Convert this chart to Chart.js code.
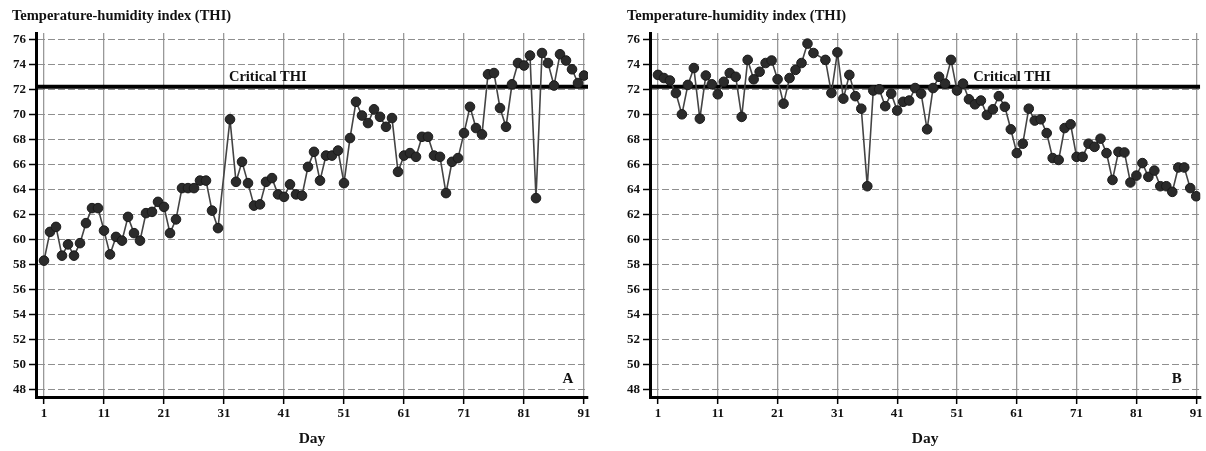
<!DOCTYPE html>
<html>
<head>
<meta charset="utf-8">
<script src="https://cdn.jsdelivr.net/npm/chart.js@4/dist/chart.umd.min.js"></script>
<style>
  html, body { margin: 0; padding: 0; background: #fff; }
  #wrap { position: relative; width: 1206px; height: 451px; overflow: hidden; }
  canvas { position: absolute; top: 0; }
  .ttl { position: absolute; top: 7px; font: bold 14.5px "Liberation Serif", "Times New Roman", serif; color: #111; white-space: nowrap; }
</style>
</head>
<body>
<div id="wrap">
  <canvas id="cA" width="603" height="451" style="left:0"></canvas>
  <canvas id="cB" width="603" height="451" style="left:603px"></canvas>
  <div class="ttl" style="left:12px">Temperature-humidity index (THI)</div>
  <div class="ttl" style="left:627px">Temperature-humidity index (THI)</div>
</div>
<script>
// ---- data ----
const days = [1,2,3,4,5,6,7,8,9,10,11,12,13,14,15,16,17,18,19,20,21,22,23,24,25,26,27,28,29,30,31,32,33,34,35,36,37,38,39,40,41,42,43,44,45,46,47,48,49,50,51,52,53,54,55,56,57,58,59,60,61,62,63,64,65,66,67,68,69,70,71,72,73,74,75,76,77,78,79,80,81,82,83,84,85,86,87,88,89,90,91];
const dayTicks = [1, 11, 21, 31, 41, 51, 61, 71, 81, 91];
const thiTicks = [48, 50, 52, 54, 56, 58, 60, 62, 64, 66, 68, 70, 72, 74, 76];
const criticalTHI = 72.2;

// Panel A
const thiA = [
  58.3, 60.6, 61.0, 58.7, 59.6, 58.7, 59.7, 61.3, 62.5, 62.5,
  60.7, 58.8, 60.2, 59.9, 61.8, 60.5, 59.9, 62.1, 62.2, 63.0,
  62.6, 60.5, 61.6, 64.1, 64.1, 64.1, 64.7, 64.7, 62.3, 60.9,
  null, 69.6, 64.6, 66.2, 64.5, 62.7, 62.8, 64.6, 64.9, 63.6,
  63.4, 64.4, 63.6, 63.5, 65.8, 67.0, 64.7, 66.7, 66.7, 67.1,
  64.5, 68.1, 71.0, 69.9, 69.3, 70.4, 69.8, 69.0, 69.7, 65.4,
  66.7, 66.9, 66.6, 68.2, 68.2, 66.7, 66.6, 63.7, 66.2, 66.5,
  68.5, 70.6, 68.9, 68.4, 73.2, 73.3, 70.5, 69.0, 72.4, 74.1,
  73.9, 74.7, 63.3, 74.9, 74.1, 72.3, 74.8, 74.3, 73.6, 72.5, 73.1
];

// Panel B
const thiB = [
  73.15, 72.9, 72.7, 71.7, 70.0, 72.35, 73.7, 69.65, 73.1, 72.4,
  71.6, 72.6, 73.3, 73.0, 69.8, 74.35, 72.8, 73.4, 74.1, 74.3,
  72.8, 70.85, 72.9, 73.55, 74.1, 75.65, 74.9, null, 74.35, 71.7,
  74.95, 71.25, 73.15, 71.45, 70.45, 64.25, 71.9, 72.0, 70.65, 71.65,
  70.3, 71.0, 71.1, 72.1, 71.65, 68.8, 72.1, 73.0, 72.45, 74.35,
  71.9, 72.45, 71.2, 70.8, 71.1, 69.95, 70.4, 71.45, 70.6, 68.8,
  66.9, 67.65, 70.45, 69.5, 69.6, 68.5, 66.5, 66.35, 68.9, 69.2,
  66.6, 66.6, 67.65, 67.4, 68.05, 66.9, 64.75, 67.0, 66.95, 64.55,
  65.1, 66.1, 65.0, 65.5, 64.25, 64.25, 63.8, 65.75, 65.75, 64.1, 63.45
];

// ---- rendering ----
const X_MIN = -0.333, X_MAX = 91.667;
const Y_MIN = 47.4, Y_MAX = 76.5;
const SERIF = '"Liberation Serif", "Times New Roman", serif';
const INK = '#111';

const labelPlugin = {
  id: 'panelLabels',
  afterDatasetsDraw(chart, args, o) {
    const { ctx, scales: { x, y } } = chart;
    ctx.save();
    ctx.fillStyle = INK;
    ctx.textAlign = 'center';
    ctx.textBaseline = 'middle';
    ctx.font = 'bold 14.5px ' + SERIF;
    ctx.fillText('Critical THI', x.getPixelForValue(o.critDay), y.getPixelForValue(o.critY));
    ctx.font = 'bold 15px ' + SERIF;
    ctx.fillText(o.letter, x.getPixelForValue(o.letterDay), y.getPixelForValue(o.letterY));
    ctx.restore();
  }
};

function makeChart(id, values, axisW, padRight, lbl) {
  const pts = values.map((v, i) => ({ x: days[i], y: v }));
  return new Chart(document.getElementById(id), {
    type: 'line',
    data: {
      datasets: [
        {
          data: pts,
          borderColor: '#444',
          borderWidth: 1.6,
          pointRadius: 4.8,
          pointBackgroundColor: '#2b2b2b',
          pointBorderColor: '#1a1a1a',
          pointBorderWidth: 1,
          spanGaps: true,
          tension: 0,
          order: 1
        },
        {
          data: [{ x: X_MIN, y: criticalTHI }, { x: X_MAX, y: criticalTHI }],
          borderColor: '#000',
          borderWidth: 4,
          pointRadius: 0,
          order: 2
        }
      ]
    },
    plugins: [labelPlugin],
    options: {
      responsive: false,
      animation: false,
      devicePixelRatio: 1,
      layout: { padding: { top: 33, right: padRight, left: 0, bottom: 0 } },
      plugins: {
        legend: { display: false },
        tooltip: { enabled: false },
        panelLabels: lbl
      },
      scales: {
        x: {
          type: 'linear',
          min: X_MIN,
          max: X_MAX,
          afterBuildTicks: s => { s.ticks = dayTicks.map(v => ({ value: v })); },
          afterFit: s => { s.height = 54; },
          grid: { color: '#999', lineWidth: 1.3, tickLength: 7, tickColor: '#000', tickWidth: 1.5 },
          border: { color: '#000', width: 3 },
          ticks: { color: INK, font: { family: SERIF, size: 13, weight: 'bold' }, padding: 2, maxRotation: 0, autoSkip: false },
          title: { display: true, text: 'Day', color: INK, font: { family: SERIF, size: 15.5, weight: 'bold' }, padding: { top: 0, bottom: 3 } }
        },
        y: {
          min: Y_MIN,
          max: Y_MAX,
          afterBuildTicks: s => { s.ticks = thiTicks.map(v => ({ value: v })); },
          afterFit: s => { s.width = axisW; },
          grid: { color: '#8f8f8f', lineWidth: 1, tickLength: 7, tickColor: '#000', tickWidth: 1.5, tickBorderDash: [] },
          border: { color: '#000', width: 3, dash: [7, 3] },
          ticks: { color: INK, font: { family: SERIF, size: 13, weight: 'bold' }, padding: 3 }
        }
      }
    }
  });
}

makeChart('cA', thiA, 36, 15, { critDay: 38.3, critY: 73.0, letter: 'A', letterDay: 88.3, letterY: 48.8 });
makeChart('cB', thiB, 47, 4, { critDay: 60.2, critY: 73.0, letter: 'B', letterDay: 87.75, letterY: 48.8 });
</script>
</body>
</html>
